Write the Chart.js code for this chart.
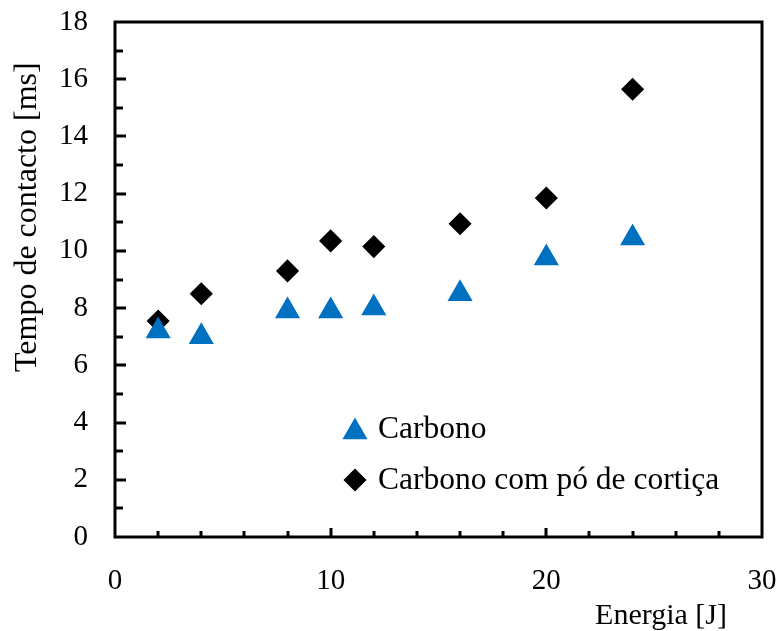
<!DOCTYPE html>
<html>
<head>
<meta charset="utf-8">
<script src="https://cdn.jsdelivr.net/npm/chart.js"></script>
<style>
  html, body { margin: 0; padding: 0; background: #ffffff; }
  #wrap { width: 782px; height: 631px; }
</style>
</head>
<body>
<div id="wrap"><canvas id="contactChart"></canvas></div>
<script>
const energies = [2, 4, 8, 10, 12, 16, 20, 24];
const carbonTimes = [7.2, 7.0, 7.9, 7.9, 8.0, 8.5, 9.75, 10.45];
const corkTimes = [7.55, 8.5, 9.3, 10.35, 10.15, 10.95, 11.85, 15.65];

const seriesLabels = ["Carbono", "Carbono com pó de cortiça"];
const xTitle = "Energia [J]";
const yTitle = "Tempo de contacto [ms]";

const serif = "'Liberation Serif', 'Times New Roman', serif";

function toPoints(xs, ys) {
  return xs.map((x, i) => ({ x: x, y: ys[i] }));
}

// frame, inward tick marks, axis titles and the legend box
const decorations = {
  id: "decorations",

  beforeDatasetsDraw(chart) {
    const ctx = chart.ctx;
    const area = chart.chartArea;
    const xScale = chart.scales.x;
    const yScale = chart.scales.y;

    ctx.save();
    ctx.strokeStyle = "#000000";
    ctx.lineWidth = 3;
    ctx.lineCap = "butt";

    ctx.beginPath();
    for (let v = 2; v < 30; v += 2) {
      const px = Math.round(xScale.getPixelForValue(v));
      const len = v % 10 === 0 ? 9 : 6;
      ctx.moveTo(px, area.bottom);
      ctx.lineTo(px, area.bottom - len);
    }
    for (let v = 1; v < 18; v += 1) {
      const py = Math.round(yScale.getPixelForValue(v));
      const len = v % 2 === 0 ? 11 : 8;
      ctx.moveTo(area.left, py);
      ctx.lineTo(area.left + len, py);
    }
    ctx.stroke();

    ctx.lineJoin = "miter";
    ctx.strokeRect(area.left, area.top, area.right - area.left, area.bottom - area.top);
    ctx.restore();
  },

  afterDraw(chart) {
    const ctx = chart.ctx;
    const area = chart.chartArea;

    ctx.save();
    ctx.fillStyle = "#000000";

    // x title sits under the right part of the axis
    ctx.font = "30px " + serif;
    ctx.textAlign = "right";
    ctx.textBaseline = "alphabetic";
    ctx.fillText(xTitle, area.right - 35, 624);

    // y title, reading bottom to top
    ctx.font = "32px " + serif;
    ctx.translate(36, 372);
    ctx.rotate(-Math.PI / 2);
    ctx.textAlign = "left";
    ctx.fillText(yTitle, 0, 0);
    ctx.restore();

    // legend entries inside the plot
    const rows = [area.bottom - 108, area.bottom - 57];
    const markerX = area.left + 240;

    chart.data.datasets.forEach((ds, i) => {
      ctx.save();
      ctx.fillStyle = ds.pointBackgroundColor;
      ctx.strokeStyle = ds.pointBorderColor;
      ctx.lineWidth = ds.pointBorderWidth;
      Chart.helpers.drawPoint(ctx, {
        pointStyle: ds.pointStyle,
        radius: ds.pointRadius,
        rotation: 0,
        borderWidth: ds.pointBorderWidth,
      }, markerX, rows[i] + (ds.pointStyle === "triangle" ? 3 : 0));

      ctx.fillStyle = "#000000";
      ctx.font = "31.5px " + serif;
      ctx.textAlign = "left";
      ctx.textBaseline = "middle";
      ctx.fillText(ds.label, markerX + 23, rows[i] + 1);
      ctx.restore();
    });
  },
};

new Chart(document.getElementById("contactChart"), {
  type: "scatter",

  data: {
    datasets: [
      {
        label: seriesLabels[0],
        data: toPoints(energies, carbonTimes),
        pointStyle: "triangle",
        pointRadius: 13,
        pointHoverRadius: 13,
        pointBackgroundColor: "#0070C0",
        pointBorderColor: "#0070C0",
        pointBorderWidth: 1.5,
      },
      {
        label: seriesLabels[1],
        data: toPoints(energies, corkTimes),
        pointStyle: "rectRot",
        pointRadius: 10.5,
        pointHoverRadius: 10.5,
        pointBackgroundColor: "#000000",
        pointBorderColor: "#000000",
        pointBorderWidth: 1.5,
      },
    ],
  },

  options: {
    responsive: true,
    maintainAspectRatio: false,
    animation: false,
    events: [],

    layout: {
      padding: { left: 0, top: 22, right: 20, bottom: 0 },
    },

    plugins: {
      legend: { display: false },
      tooltip: { enabled: false },
    },

    scales: {
      x: {
        type: "linear",
        min: 0,
        max: 30,
        grid: { display: false, drawTicks: false },
        border: { display: false },
        ticks: {
          stepSize: 10,
          padding: 27,
          color: "#000000",
          font: { family: serif, size: 29 },
          maxRotation: 0,
        },
        afterFit(scale) {
          scale.height = 94;
          scale.paddingLeft = 0;
          scale.paddingRight = 0;
        },
      },

      y: {
        type: "linear",
        min: 0,
        max: 18,
        grid: { display: false, drawTicks: false },
        border: { display: false },
        ticks: {
          stepSize: 2,
          padding: 27,
          color: "#000000",
          font: { family: serif, size: 29 },
        },
        afterFit(scale) {
          scale.width = 115;
          scale.paddingTop = 0;
          scale.paddingBottom = 0;
        },
      },
    },
  },

  plugins: [decorations],
});
</script>
</body>
</html>
